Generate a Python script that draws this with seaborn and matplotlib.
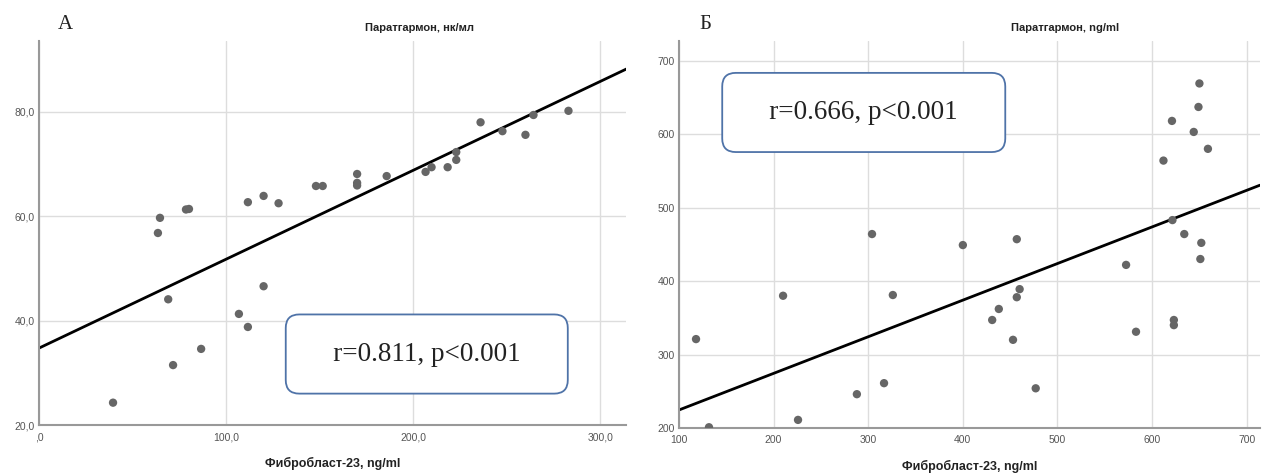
import matplotlib
matplotlib.use("Agg")
import matplotlib.pyplot as plt
import seaborn as sns
import pandas as pd

sns.set_style("whitegrid")
plt.rcParams['font.family'] = ['Liberation Sans', 'DejaVu Sans']

# Panel A data: Фибробласт-23 vs Паратгармон (нк/мл)
fgf_a = [39.5, 63.5, 64.6, 69, 71.6, 78.5, 80.1, 86.6, 106.8, 111.6, 111.6, 120, 120, 128,
         148, 151.6, 170, 170, 170, 185.8, 206.6, 209.8, 218.4, 223, 223, 236, 247.7, 260,
         264.3, 283]
pth_a = [24.3, 56.8, 59.7, 44.1, 31.5, 61.3, 61.4, 34.6, 41.3, 38.8, 62.7, 46.6, 63.9, 62.5,
         65.8, 65.8, 68.1, 66.4, 65.9, 67.7, 68.5, 69.4, 69.4, 70.8, 72.3, 78.0, 76.3, 75.6,
         79.4, 80.2]

# Panel B data: Фибробласт-23 vs Паратгармон (ng/ml)
fgf_b = [118, 131.7, 210, 225.8, 288, 304, 316.7, 326, 400, 457, 460, 457, 438, 431, 453,
         477, 572.5, 583, 623, 623, 634, 652, 651, 650, 649, 621, 644, 659, 612, 621.5]
pth_b = [321, 201, 380, 211, 246, 464, 261, 381, 449, 457, 389, 378, 362, 347, 320,
         254, 422, 331, 347, 340, 464, 452, 430, 669, 637, 618, 603, 580, 564, 483]

xticks_a = [0, 100, 200, 300]
xlabels_a = [",0", "100,0", "200,0", "300,0"]
yticks_a = [20, 40, 60, 80]
ylabels_a = ["20,0", "40,0", "60,0", "80,0"]
xticks_b = [100, 200, 300, 400, 500, 600, 700]
yticks_b = [200, 300, 400, 500, 600, 700]

df_a = pd.DataFrame({"x": fgf_a, "y": pth_a})
df_b = pd.DataFrame({"x": fgf_b, "y": pth_b})

fig = plt.figure(figsize=(12.63, 4.75), dpi=100)
ax_a = fig.add_axes([0.031, 0.105, 0.465, 0.809])
ax_b = fig.add_axes([0.5376, 0.099, 0.46, 0.815])

panels = [
    (ax_a, df_a, (0, 314), (20, 93.6), xticks_a, xlabels_a, yticks_a, ylabels_a,
     "Паратгармон, нк/мл", 0.648, "А", "r=0.811, p<0.001", (0.66, 0.185)),
    (ax_b, df_b, (100, 714), (200, 727), xticks_b, [str(t) for t in xticks_b], yticks_b,
     [str(t) for t in yticks_b], "Паратгармон, ng/ml", 0.664, "Б", "r=0.666, p<0.001", (0.318, 0.815)),
]

for ax, df, xl, yl, xt, xtl, yt, ytl, title, tx, letter, stat, bpos in panels:
    ax.set_xlim(*xl)
    ax.set_ylim(*yl)
    sns.scatterplot(data=df, x="x", y="y", ax=ax, color="#666666", s=36,
                    edgecolor="none", zorder=3)
    sns.regplot(data=df, x="x", y="y", ax=ax, scatter=False, ci=None, truncate=False,
                line_kws={"color": "black", "lw": 2})
    ax.set_xlim(*xl)
    ax.set_ylim(*yl)
    ax.set_xticks(xt)
    ax.set_xticklabels(xtl)
    ax.set_yticks(yt)
    ax.set_yticklabels(ytl)
    ax.tick_params(labelsize=7.5, colors="#555555", length=0)
    ax.tick_params(axis="x", pad=5)
    ax.tick_params(axis="y", pad=3)
    ax.grid(color="#dddddd", lw=1)
    for s in ["top", "right"]:
        ax.spines[s].set_visible(False)
    for s in ["left", "bottom"]:
        ax.spines[s].set_color("#999999")
        ax.spines[s].set_linewidth(1.5)
    ax.set_xlabel("Фибробласт-23, ng/ml", fontsize=9, fontweight="bold", color="#222222",
                  labelpad=11)
    ax.set_ylabel("")
    ax.text(tx, 1.034, title, transform=ax.transAxes, ha="center", va="center", fontsize=8,
            fontweight="bold", color="#222222")
    ax.text(0.045, 1.042, letter, transform=ax.transAxes, ha="center", va="center", fontsize=15,
            family="Liberation Serif", color="#222222")
    ax.text(bpos[0], bpos[1], "   " + stat + "   ", transform=ax.transAxes, ha="center",
            va="center", fontsize=19.5, family="Liberation Serif", color="#222222", zorder=5,
            bbox=dict(boxstyle="round,pad=1.0,rounding_size=0.5", fc="white",
                      ec="#4f73a8", lw=1.3))

fig.savefig("out.png", dpi=100)
